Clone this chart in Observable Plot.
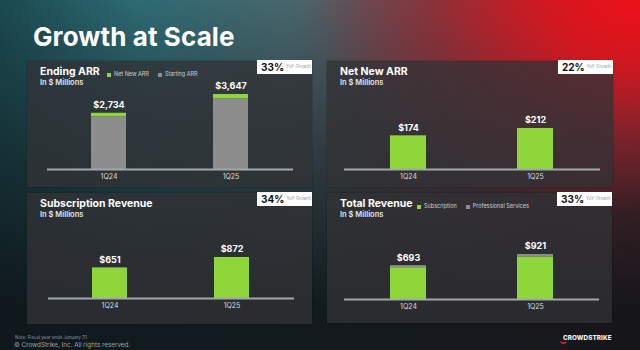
<!DOCTYPE html>
<html><head><meta charset="utf-8">
<script src="https://cdn.jsdelivr.net/npm/d3@7"></script>
<script src="https://cdn.jsdelivr.net/npm/@observablehq/plot@0.6"></script>
<style>
html,body{margin:0;padding:0;}
body{width:640px;height:350px;overflow:hidden;font-family:Inter,"Noto Sans",sans-serif;}
#slide{position:relative;width:640px;height:350px;overflow:hidden;
 background:
  radial-gradient(ellipse 330px 215px at 100% 0%, rgba(238,16,24,1) 0%, rgba(215,22,30,0.92) 30%, rgba(160,32,42,0.55) 65%, rgba(120,40,50,0) 100%),
  linear-gradient(180deg, rgba(14,20,24,0) 0%, rgba(14,20,24,0.5) 45%, rgba(14,20,24,0.93) 88%),
  linear-gradient(90deg, #1b4a50 0%, #2e6a72 22%, #48666c 45%, #6a4a50 70%, #7a3038 100%);}
.title{position:absolute;left:33px;top:23.5px;font-size:26px;font-weight:700;color:#fff;line-height:1;letter-spacing:0.1px;}
.panel{position:absolute;background:rgba(50,50,54,0.76);box-shadow:0 0 0 1px rgba(0,0,0,0.12);}
.panel svg{position:absolute;left:0;top:0;}
.ptitle{position:absolute;left:13px;top:5.8px;font-size:10.5px;font-weight:700;color:#fff;white-space:nowrap;line-height:1;z-index:2;}
.psub{position:absolute;left:13px;top:17.6px;font-size:7.5px;font-weight:600;color:#e4e4e4;white-space:nowrap;line-height:1;z-index:2;}
.legend{position:absolute;top:11px;font-size:5.5px;color:#cfcfcf;white-space:nowrap;line-height:1;z-index:2;display:flex;align-items:center;}
.legend span.sw{display:inline-block;width:4px;height:4px;margin-right:3px;}
.legend span.item{display:flex;align-items:center;margin-right:9px;}
.badge{position:absolute;right:0;top:-1px;width:55px;height:14px;background:#fff;z-index:3;display:flex;align-items:center;box-sizing:border-box;padding-left:4px;}
.badge b{font-size:10px;font-weight:700;color:#111;line-height:1;}
.badge i{font-style:normal;font-size:4.5px;color:#9a9a9a;margin-left:2px;line-height:1;}
.note{position:absolute;left:15px;top:335px;font-size:4.5px;color:#8c999d;white-space:nowrap;}
.copy{position:absolute;left:14px;top:341px;font-size:6.3px;color:#99a4a8;white-space:nowrap;}
.logo{position:absolute;left:563px;top:334px;font-size:6.3px;font-weight:800;color:#f2f2f2;letter-spacing:0.1px;white-space:nowrap;}
.logo:before{content:"";position:absolute;left:-3px;top:5px;width:7px;height:3px;border-bottom:2px solid #d0202a;border-radius:0 0 6px 6px;}
</style></head>
<body>
<div id="slide">
 <div class="title">Growth at Scale</div>
 <div class="note">Note: Fiscal year ends January 31.</div>
 <div class="copy">© CrowdStrike, Inc. All rights reserved.</div>
 <div class="logo">CROWDSTRIKE</div>
</div>
<script>
// ---- data ----
const quarters = ["1Q24", "1Q25"];
const endingARR = [2734, 3647];
const startingARR = [2560, 3435];
const netNewARR = [174, 212];
const subscriptionRevenue = [651, 872];
const professionalServices = [42, 49];
const totalRevenue = [693, 921];
const panelTitles = ["Ending ARR", "Net New ARR", "Subscription Revenue", "Total Revenue"];
const panelSubtitle = "In $ Millions";
const yoyGrowth = ["33%", "22%", "34%", "33%"];
const yoyLabel = "YoY Growth";

const GREEN = "#8fd63a", GRAY = "#8d8d8d";
const fmt = v => "$" + d3.format(",")(v);

const panels = [
 {left:27, top:61, width:285, height:126, ml:20, mr:19, mb:18, yMax:5252,
  rows: quarters.flatMap((q,i)=>[{q, series:"Starting ARR", value:startingARR[i]},{q, series:"Net New ARR", value:netNewARR[i]}]),
  totals: quarters.map((q,i)=>({q, total:endingARR[i]})),
  domain:["Starting ARR","Net New ARR"], range:[GRAY, GREEN],
  legend:[["Net New ARR",GREEN],["Starting ARR",GRAY]], legendLeft:80},
 {left:327, top:61, width:286, height:126, ml:17, mr:13, mb:18, yMax:558,
  rows: quarters.map((q,i)=>({q, series:"Net New ARR", value:netNewARR[i]})),
  totals: quarters.map((q,i)=>({q, total:netNewARR[i]})),
  domain:["Net New ARR"], range:[GREEN]},
 {left:27, top:193, width:285, height:131, ml:21, mr:18, mb:26, yMax:2233,
  rows: quarters.map((q,i)=>({q, series:"Subscription", value:subscriptionRevenue[i]})),
  totals: quarters.map((q,i)=>({q, total:subscriptionRevenue[i]})),
  domain:["Subscription"], range:[GREEN]},
 {left:327, top:193, width:285, height:130, ml:17, mr:13, mb:24, yMax:2170,
  rows: quarters.flatMap((q,i)=>[{q, series:"Subscription", value:subscriptionRevenue[i]},{q, series:"Professional Services", value:professionalServices[i]}]),
  totals: quarters.map((q,i)=>({q, total:totalRevenue[i]})),
  domain:["Subscription","Professional Services"], range:[GREEN, GRAY],
  legend:[["Subscription",GREEN],["Professional Services",GRAY]], legendLeft:90}
];

const slide = document.getElementById("slide");
panels.forEach((p, k) => {
 const div = document.createElement("div");
 div.className = "panel";
 Object.assign(div.style, {left:p.left+"px", top:p.top+"px", width:p.width+"px", height:p.height+"px"});
 const t = document.createElement("div"); t.className="ptitle"; t.textContent = panelTitles[k]; div.appendChild(t);
 const s = document.createElement("div"); s.className="psub"; s.textContent = panelSubtitle; div.appendChild(s);
 const b = document.createElement("div"); b.className="badge";
 b.innerHTML = `<b>${yoyGrowth[k]}</b><i>${yoyLabel}</i>`; div.appendChild(b);
 if (p.legend) {
  const lg = document.createElement("div"); lg.className="legend"; lg.style.left = p.legendLeft+"px";
  p.legend.forEach(([name,c]) => {
   const it = document.createElement("span"); it.className="item";
   it.innerHTML = `<span class="sw" style="background:${c}"></span>${name}`;
   lg.appendChild(it);
  });
  div.appendChild(lg);
 }
 const chart = Plot.plot({
  width:p.width, height:p.height, marginTop:0, marginLeft:p.ml, marginRight:p.mr, marginBottom:p.mb,
  style:{background:"transparent", color:"#fff", fontFamily:"Inter, sans-serif", overflow:"visible"},
  x:{domain:quarters, paddingInner:0.713, paddingOuter:0.358, label:null},
  y:{domain:[0,p.yMax], axis:null},
  color:{domain:p.domain, range:p.range},
  marks:[
   Plot.barY(p.rows, {x:"q", y:"value", fill:"series", order:null}),
   Plot.ruleY([0], {stroke:"#a2a7aa", strokeWidth:2}),
   Plot.text(p.totals, {x:"q", y:"total", text:d=>fmt(d.total), dy:-8, fill:"#fff", fontWeight:700, fontSize:9}),
   Plot.axisX({tickSize:0, tickPadding:5, fontSize:7, fill:"#dcdcdc", label:null})
  ]
 });
 div.appendChild(chart);
 slide.appendChild(div);
});
</script>
</body></html>
